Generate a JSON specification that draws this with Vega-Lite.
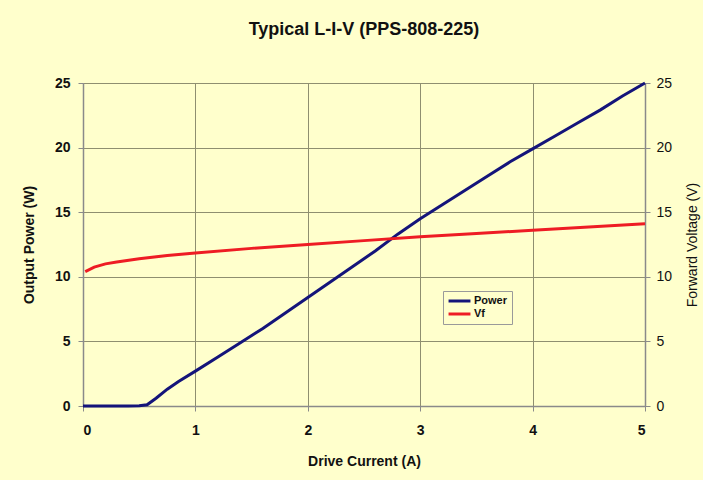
{
  "$schema": "https://vega.github.io/schema/vega-lite/v6.json",
  "width": 562,
  "height": 323,
  "autosize": {"type": "none"},
  "padding": {"left": 83, "top": 83, "right": 58, "bottom": 74},
  "background": "#FFFFCC",
  "config": {
    "font": "Liberation Sans",
    "view": {"stroke": null},
    "axis": {
      "gridColor": "#8f8f70",
      "gridOpacity": 1,
      "gridWidth": 1,
      "domainColor": "#8a8a8a",
      "domainWidth": 1.5,
      "tickColor": "#8a8a8a",
      "tickSize": 5,
      "labelColor": "#111111",
      "titleColor": "#111111",
      "labelFontSize": 14,
      "titleFontSize": 14
    }
  },
  "title": {
    "text": "Typical L-I-V (PPS-808-225)",
    "fontSize": 18,
    "fontWeight": "bold",
    "color": "#111111",
    "offset": 37,
    "anchor": "middle"
  },
  "data": {
    "values": [
      {"I": 0.0, "series": "Power", "v": 0.0},
      {"I": 0.1, "series": "Power", "v": 0.0},
      {"I": 0.2, "series": "Power", "v": 0.0},
      {"I": 0.3, "series": "Power", "v": 0.0},
      {"I": 0.4, "series": "Power", "v": 0.0},
      {"I": 0.5, "series": "Power", "v": 0.02},
      {"I": 0.57, "series": "Power", "v": 0.1},
      {"I": 0.65, "series": "Power", "v": 0.6},
      {"I": 0.75, "series": "Power", "v": 1.3},
      {"I": 0.85, "series": "Power", "v": 1.9},
      {"I": 1.0, "series": "Power", "v": 2.7},
      {"I": 1.2, "series": "Power", "v": 3.8},
      {"I": 1.4, "series": "Power", "v": 4.9},
      {"I": 1.6, "series": "Power", "v": 6.0},
      {"I": 1.8, "series": "Power", "v": 7.2},
      {"I": 2.0, "series": "Power", "v": 8.4},
      {"I": 2.2, "series": "Power", "v": 9.6},
      {"I": 2.4, "series": "Power", "v": 10.8},
      {"I": 2.6, "series": "Power", "v": 12.0},
      {"I": 2.8, "series": "Power", "v": 13.3},
      {"I": 3.0, "series": "Power", "v": 14.5},
      {"I": 3.2, "series": "Power", "v": 15.6},
      {"I": 3.4, "series": "Power", "v": 16.7},
      {"I": 3.6, "series": "Power", "v": 17.8},
      {"I": 3.8, "series": "Power", "v": 18.9},
      {"I": 4.0, "series": "Power", "v": 19.9},
      {"I": 4.2, "series": "Power", "v": 20.9},
      {"I": 4.4, "series": "Power", "v": 21.9},
      {"I": 4.6, "series": "Power", "v": 22.9},
      {"I": 4.8, "series": "Power", "v": 24.0},
      {"I": 5.0, "series": "Power", "v": 25.0},
      {"I": 0.02, "series": "Vf", "v": 10.4},
      {"I": 0.1, "series": "Vf", "v": 10.75},
      {"I": 0.2, "series": "Vf", "v": 11.0},
      {"I": 0.3, "series": "Vf", "v": 11.15},
      {"I": 0.5, "series": "Vf", "v": 11.4},
      {"I": 0.75, "series": "Vf", "v": 11.65},
      {"I": 1.0, "series": "Vf", "v": 11.85},
      {"I": 1.5, "series": "Vf", "v": 12.2},
      {"I": 2.0, "series": "Vf", "v": 12.5},
      {"I": 2.5, "series": "Vf", "v": 12.8},
      {"I": 3.0, "series": "Vf", "v": 13.1},
      {"I": 3.5, "series": "Vf", "v": 13.35},
      {"I": 4.0, "series": "Vf", "v": 13.6},
      {"I": 4.5, "series": "Vf", "v": 13.85},
      {"I": 5.0, "series": "Vf", "v": 14.1}
    ]
  },
  "encoding": {
    "x": {
      "field": "I",
      "type": "quantitative",
      "scale": {"domain": [0, 5], "nice": false},
      "axis": {
        "title": "Drive Current (A)",
        "values": [0, 1, 2, 3, 4, 5],
        "labelFontWeight": "bold",
        "titleFontWeight": "bold",
        "labelPadding": 12,
        "titlePadding": 17
      }
    },
    "color": {
      "field": "series",
      "type": "nominal",
      "scale": {"domain": ["Power", "Vf"], "range": ["#14147a", "#ee1c24"]},
      "legend": {
        "title": null,
        "orient": "none",
        "legendX": 360,
        "legendY": 208,
        "symbolType": "stroke",
        "symbolStrokeWidth": 3,
        "symbolSize": 480,
        "clipHeight": 12,
        "labelFontSize": 11,
        "labelFontWeight": "bold",
        "labelColor": "#111111",
        "fillColor": "#FFFFCC",
        "strokeColor": "#9a9a9a",
        "padding": 4,
        "rowPadding": 1,
        "labelOffset": 2
      }
    }
  },
  "layer": [
    {
      "transform": [{"filter": "datum.series === 'Power'"}],
      "mark": {"type": "line", "strokeWidth": 3},
      "encoding": {
        "y": {
          "field": "v",
          "type": "quantitative",
          "scale": {"domain": [0, 25], "nice": false},
          "axis": {
            "title": "Output Power (W)",
            "orient": "left",
            "values": [0, 5, 10, 15, 20, 25],
            "labelFontWeight": "bold",
            "titleFontWeight": "bold",
            "labelPadding": 8,
            "titlePadding": 18
          }
        }
      }
    },
    {
      "transform": [{"filter": "datum.series === 'Vf'"}],
      "mark": {"type": "line", "strokeWidth": 3},
      "encoding": {
        "y": {
          "field": "v",
          "type": "quantitative",
          "scale": {"domain": [0, 25], "nice": false},
          "axis": {
            "title": "Forward Voltage (V)",
            "orient": "right",
            "values": [0, 5, 10, 15, 20, 25],
            "grid": false,
            "labelFontWeight": "normal",
            "titleFontWeight": "normal",
            "titleAngle": 270,
            "labelPadding": 6,
            "titlePadding": 28
          }
        }
      }
    }
  ],
  "resolve": {"scale": {"y": "independent"}}
}
